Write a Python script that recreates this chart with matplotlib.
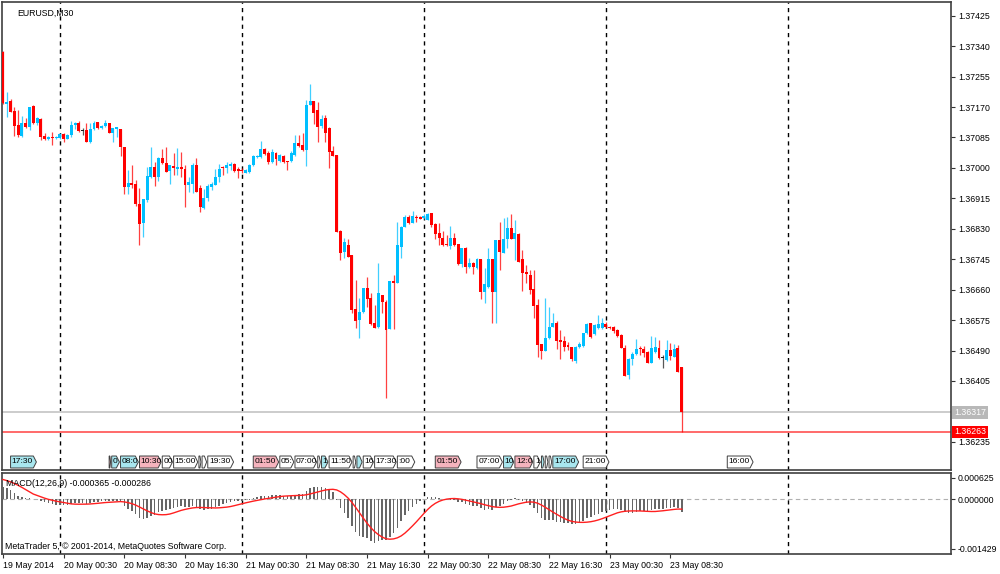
import numpy as np
import pandas as pd
import matplotlib
matplotlib.use("Agg")
import matplotlib.pyplot as plt
from matplotlib.patches import Polygon
from matplotlib.transforms import blended_transform_factory

plt.rcParams['font.family'] = ['Liberation Sans', 'DejaVu Sans']

symbol = "EURUSD,M30"
start_time = "2014-05-19 16:30"

# OHLC in points (1e-5)
opens = [137325, 137179, 137188, 137159, 137119, 137090, 137125, 137113, 137173, 137125,
         137137, 137090, 137081, 137086, 137083, 137083, 137095, 137082, 137092, 137119,
         137126, 137103, 137106, 137072, 137108, 137129, 137112, 137118, 137125, 137098,
         137108, 137108, 137058, 136948, 136959, 136955, 136900, 136845, 136910, 136975,
         137003, 136975, 137027, 137013, 136992, 137005, 136996, 137003, 136997, 136952,
         136955, 137008, 136943, 136887, 136915, 136948, 136952, 136974, 137003, 136999,
         137005, 137012, 136996, 136994, 136987, 136989, 137008, 137031, 137031, 137053,
         137043, 137016, 137043, 137020, 137033, 137020, 137020, 137036, 137070, 137064,
         137050, 137176, 137188, 137162, 137117, 137139, 137111, 137048, 137036, 136825,
         136765, 136785, 136757, 136605, 136575, 136597, 136664, 136636, 136566, 136555,
         136645, 136626, 136549, 136684, 136679, 136780, 136836, 136864, 136847, 136864,
         136862, 136860, 136855, 136873, 136843, 136817, 136805, 136788, 136783, 136805,
         136787, 136732, 136777, 136722, 136735, 136720, 136745, 136653, 136668, 136745,
         136653, 136799, 136763, 136801, 136831, 136801, 136815, 136745, 136710, 136701,
         136661, 136617, 136508, 136490, 136524, 136557, 136568, 136519, 136517, 136505,
         136501, 136461, 136499, 136503, 136538, 136566, 136536, 136552, 136552, 136563,
         136557, 136557, 136547, 136533, 136496, 136422, 136465, 136480, 136498, 136494,
         136487, 136456, 136487, 136496, 136469, 136464, 136492, 136473, 136496, 136445]
highs = [137327, 137213, 137192, 137171, 137162, 137145, 137139, 137171, 137176, 137141,
         137139, 137098, 137089, 137100, 137090, 137097, 137098, 137095, 137132, 137127,
         137132, 137111, 137126, 137125, 137132, 137129, 137120, 137134, 137125, 137111,
         137115, 137109, 137058, 136994, 137008, 136966, 136943, 136913, 137003, 137058,
         137017, 137030, 137052, 137058, 137008, 137041, 137055, 137045, 137008, 136975,
         137013, 137027, 136952, 136940, 136955, 136962, 136998, 137011, 137005, 137017,
         137017, 137015, 137002, 136999, 136997, 137011, 137036, 137036, 137075, 137056,
         137048, 137052, 137044, 137038, 137036, 137020, 137048, 137092, 137092, 137097,
         137190, 137234, 137188, 137185, 137148, 137148, 137115, 137061, 137036, 136827,
         136804, 136801, 136757, 136687, 136636, 136665, 136696, 136650, 136617, 136734,
         136645, 136631, 136684, 136701, 136850, 136838, 136869, 136869, 136880, 136869,
         136866, 136871, 136873, 136875, 136845, 136845, 136825, 136813, 136839, 136817,
         136788, 136777, 136778, 136748, 136738, 136748, 136745, 136720, 136775, 136745,
         136799, 136848, 136859, 136862, 136871, 136855, 136817, 136771, 136729, 136715,
         136715, 136633, 136508, 136636, 136611, 136596, 136573, 136547, 136531, 136515,
         136501, 136503, 136515, 136540, 136568, 136568, 136564, 136589, 136580, 136570,
         136558, 136558, 136549, 136535, 136505, 136468, 136487, 136521, 136503, 136503,
         136489, 136531, 136529, 136519, 136477, 136519, 136512, 136508, 136505, 136445]
lows = [137179, 137143, 137155, 137089, 137087, 137087, 137111, 137106, 137123, 137120,
        137078, 137078, 137079, 137064, 137081, 137081, 137073, 137080, 137087, 137108,
        137101, 137092, 137072, 137070, 137106, 137109, 137110, 137115, 137097, 137073,
        137087, 137033, 136927, 136927, 136943, 136895, 136785, 136808, 136906, 136971,
        136950, 136964, 137010, 136988, 136955, 136980, 136980, 136975, 136892, 136934,
        136931, 136934, 136878, 136884, 136908, 136938, 136952, 136962, 136980, 136987,
        136994, 136989, 136973, 136986, 136986, 136987, 137005, 137029, 137029, 137036,
        137010, 137013, 137008, 137016, 137013, 136994, 137017, 137033, 137058, 137048,
        137005, 137176, 137123, 137073, 137111, 137073, 137001, 137033, 136822, 136743,
        136748, 136752, 136594, 136552, 136524, 136595, 136612, 136561, 136552, 136552,
        136594, 136357, 136549, 136549, 136679, 136748, 136834, 136843, 136845, 136850,
        136857, 136857, 136855, 136836, 136801, 136785, 136783, 136783, 136773, 136783,
        136729, 136724, 136706, 136721, 136704, 136717, 136634, 136624, 136664, 136566,
        136568, 136715, 136763, 136775, 136801, 136743, 136738, 136657, 136678, 136648,
        136580, 136473, 136465, 136489, 136522, 136555, 136493, 136465, 136490, 136491,
        136462, 136456, 136498, 136501, 136536, 136524, 136534, 136549, 136549, 136553,
        136549, 136540, 136529, 136496, 136419, 136410, 136450, 136477, 136478, 136473,
        136455, 136454, 136484, 136465, 136440, 136462, 136464, 136471, 136431, 136263]
closes = [137180, 137185, 137157, 137117, 137092, 137125, 137113, 137169, 137125, 137139,
          137087, 137081, 137087, 137083, 137087, 137094, 137081, 137092, 137120, 137125,
          137104, 137103, 137072, 137108, 137126, 137111, 137117, 137125, 137098, 137111,
          137113, 137058, 136948, 136959, 136952, 136900, 136843, 136912, 136977, 137003,
          136975, 137027, 137013, 136989, 137008, 136999, 137002, 136998, 136952, 136962,
          137008, 136934, 136892, 136915, 136950, 136955, 136974, 136996, 136999, 137007,
          137012, 136991, 136991, 136990, 136994, 137008, 137034, 137034, 137053, 137039,
          137016, 137044, 137024, 137036, 137017, 137017, 137041, 137069, 137061, 137050,
          137176, 137188, 137154, 137115, 137137, 137098, 137045, 137034, 136822, 136763,
          136793, 136752, 136603, 136573, 136598, 136664, 136633, 136563, 136552, 136650,
          136626, 136547, 136684, 136679, 136785, 136836, 136864, 136845, 136866, 136860,
          136858, 136866, 136871, 136841, 136815, 136805, 136785, 136785, 136803, 136785,
          136732, 136776, 136724, 136735, 136724, 136745, 136653, 136676, 136745, 136653,
          136799, 136766, 136801, 136831, 136801, 136819, 136738, 136707, 136704, 136659,
          136614, 136505, 136490, 136524, 136557, 136568, 136517, 136515, 136501, 136499,
          136465, 136501, 136507, 136538, 136563, 136527, 136561, 136564, 136566, 136557,
          136552, 136545, 136531, 136496, 136419, 136465, 136480, 136493, 136493, 136482,
          136456, 136496, 136501, 136468, 136469, 136492, 136475, 136494, 136431, 136317]

bid_price = 1.36317
ask_price = 1.36263
price_ticks = [1.37425, 1.37340, 1.37255, 1.37170, 1.37085, 1.37000, 1.36915, 1.36830,
               1.36745, 1.36660, 1.36575, 1.36490, 1.36405, 1.36235]
macd_ticks = [0.000625, 0.0, -0.001429]
macd_label = "MACD(12,26,9) -0.000365 -0.000286"
# EMA state before the first visible bar
fast_seed = 1.37200
slow_seed = 1.37160
macd_before = 0.0006

# calendar events: time, text, kind
event_times = ["2014-05-19 17:30", "2014-05-20 06:30", "2014-05-20 06:50", "2014-05-20 08:00",
               "2014-05-20 10:30", "2014-05-20 13:30", "2014-05-20 15:00", "2014-05-20 18:20",
               "2014-05-20 18:45", "2014-05-20 19:30", "2014-05-21 01:30", "2014-05-21 05:00",
               "2014-05-21 07:00", "2014-05-21 10:00", "2014-05-21 10:30", "2014-05-21 11:30",
               "2014-05-21 14:40", "2014-05-21 15:10", "2014-05-21 16:00", "2014-05-21 17:30",
               "2014-05-21 20:30", "2014-05-22 01:30", "2014-05-22 07:00", "2014-05-22 10:30",
               "2014-05-22 12:00", "2014-05-22 14:30", "2014-05-22 15:30", "2014-05-22 16:00",
               "2014-05-22 16:30", "2014-05-22 17:00", "2014-05-22 21:00", "2014-05-23 16:00"]
event_texts = ["17:30", "", "07:00", "08:00", "10:30", "00", "15:00", "", "", "19:30",
               "01:50", "05:00", "07:00", "", "10:30", "11:50", "", "", "16:00", "17:30",
               ":00", "01:50", "07:00", "10:30", "12:00", "14:30", "", "", "", "17:00",
               "21:00", "16:00"]
event_kinds = ["c", "p", "c", "c", "p", "w", "w", "w", "w", "w",
               "p", "w", "w", "w", "c", "w", "w", "c", "w", "w",
               "w", "p", "w", "c", "p", "w", "c", "w", "w", "c",
               "w", "w"]


def ema(values, period, seed):
    k = 2.0 / (period + 1)
    out = []
    prev = seed
    for v in values:
        prev = prev + k * (v - prev)
        out.append(prev)
    return np.array(out)


def text_px(s):
    # rough width of a flag label in pixels
    return sum(2.0 if ch == ":" else 4.2 for ch in s)


o = np.array(opens) / 1e5
h = np.array(highs) / 1e5
l = np.array(lows) / 1e5
c = np.array(closes) / 1e5
n = len(c)
idx = np.arange(n)
times = pd.date_range(start_time, periods=n, freq="30min")

macd = ema(c, 12, fast_seed) - ema(c, 26, slow_seed)
padded = np.concatenate([np.full(8, macd_before), macd])
signal = np.convolve(padded, np.ones(9) / 9, mode="valid")

W, H = 1000, 574
bar_px = 182 / 48


def px_rect(left, top, right, bottom):
    return [left / W, 1 - bottom / H, (right - left) / W, (bottom - top) / H]


fig = plt.figure(figsize=(W / 100, H / 100), dpi=100)
ax = fig.add_axes(px_rect(2, 2, 951, 470))
ax2 = fig.add_axes(px_rect(2, 473, 951, 554))

xmin, xmax = -0.26, 250.0
bull, bear = "#00bfff", "#ff0000"
fs = 6.3

# candles
colors = np.where(c > o, bull, np.where(c < o, bear, "#202020"))
ax.vlines(idx, l, h, colors=colors, linewidth=0.9, alpha=0.75, zorder=3)
bottom = np.minimum(o, c)
height = np.maximum(np.abs(c - o), 0.00002)
ax.bar(idx, height, bottom=bottom, width=0.78, color=colors, linewidth=0, zorder=4)

ax.axhline(bid_price, color="#cccccc", lw=1.4, zorder=2)
ax.axhline(ask_price, color="#ff5050", lw=1.2, zorder=2)

# day separators
day_starts = [i for i in range(n) if times[i].hour == 0 and times[i].minute == 0]
step = day_starts[1] - day_starts[0]
seps = day_starts + [day_starts[-1] + step]
for a in (ax, ax2):
    for s in seps:
        a.axvline(s, color="black", lw=1.0, linestyle=(0, (3, 3)), zorder=1)

ax.set_xlim(xmin, xmax)
ax.set_ylim(1.361563, 1.374634)
ax.set_xticks([])
ax.yaxis.tick_right()
ax.set_yticks(price_ticks)
ax.set_yticklabels(["%.5f" % p for p in price_ticks])
ax.tick_params(axis="y", direction="out", length=3, width=0.8, labelsize=fs, pad=2, colors="#333333",
               labelcolor="black")
for sp in ax.spines.values():
    sp.set_color("#404040")
    sp.set_linewidth(1.2)

ax.text(0.016, 0.985, symbol, transform=ax.transAxes, fontsize=fs, va="top", ha="left")

# price labels on the right
yb = blended_transform_factory(ax.transAxes, ax.transData)
ax.text(1.003, bid_price, "%.5f" % bid_price, transform=yb, fontsize=fs, color="white", va="center",
        ha="left", bbox=dict(boxstyle="square,pad=0.2", fc="#b8b8b8", ec="none"), clip_on=False)
ax.text(1.003, ask_price, "%.5f" % ask_price, transform=yb, fontsize=fs, color="white", va="center",
        ha="left", bbox=dict(boxstyle="square,pad=0.2", fc="#ff0000", ec="none"), clip_on=False)

# calendar flags
fills = {"c": "#a8e6ee", "p": "#f5b3bd", "w": "white"}
tr = blended_transform_factory(ax.transData, ax.transAxes)
ev_pos = [(pd.Timestamp(t) - times[0]) / pd.Timedelta("30min") for t in event_times]
y0, y1 = 0.0043, 0.0299
ym = (y0 + y1) / 2
for k, (x0, txt, kind) in enumerate(zip(ev_pos, event_texts, event_kinds)):
    x1 = x0 + (text_px(txt) + 7) / bar_px
    if k + 1 < len(ev_pos):
        x1 = min(x1, ev_pos[k + 1] - 0.3)
    tip = min(0.8, (x1 - x0) / 2)
    poly = Polygon([(x0, y0), (x1 - tip, y0), (x1, ym), (x1 - tip, y1), (x0, y1)], closed=True,
                   transform=tr, fc=fills[kind], ec="#404040", lw=0.7, zorder=5)
    ax.add_patch(poly)
    avail = (x1 - x0) * bar_px - 1.5
    shown = txt
    while shown and text_px(shown) > avail:
        shown = shown[:-1]
    if shown:
        ax.text(x0 + 0.3, ym, shown, transform=tr, fontsize=6.1, va="center", ha="left", zorder=6)

# MACD panel
ax2.bar(idx, macd, width=0.4, color="#666666", linewidth=0, zorder=3)
ax2.plot(idx, signal, color="#ff2020", lw=1.0, zorder=4)
ax2.axhline(0, color="#b0b0b0", lw=0.8, linestyle=(0, (4, 3)), zorder=2)
ax2.set_xlim(xmin, xmax)
ax2.set_ylim(-0.001582, 0.000761)
ax2.yaxis.tick_right()
ax2.set_yticks(macd_ticks)
ax2.set_yticklabels(["%.6f" % v for v in macd_ticks])
ax2.tick_params(axis="y", direction="out", length=3, width=0.8, labelsize=fs, pad=2, colors="#333333",
                labelcolor="black")

tick_bars = list(range(0, n, 16))
tick_labels = [times[0].strftime("%d %b %Y")] + [times[i].strftime("%d %b %H:%M") for i in tick_bars[1:]]
ax2.set_xticks(tick_bars)
ax2.set_xticklabels(tick_labels, ha="left")
ax2.tick_params(axis="x", direction="out", length=3, width=0.8, labelsize=fs, pad=2, colors="#333333",
                labelcolor="black")
for sp in ax2.spines.values():
    sp.set_color("#404040")
    sp.set_linewidth(1.2)

ax2.text(0.004, 0.92, macd_label, transform=ax2.transAxes, fontsize=fs, va="top", ha="left", zorder=6)
ax2.text(0.003, 0.04, "MetaTrader 5, \u00a9 2001-2014, MetaQuotes Software Corp.", transform=ax2.transAxes,
         fontsize=fs, va="bottom", ha="left", zorder=6)

fig.savefig("out.png", dpi=100, facecolor="white")
